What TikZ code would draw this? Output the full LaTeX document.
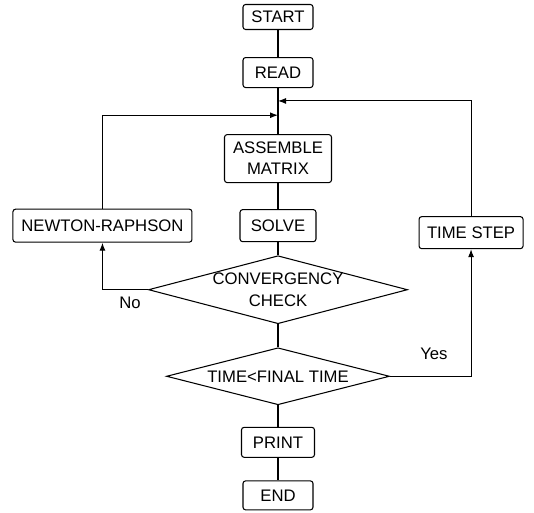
\documentclass[tikz,border=0pt]{standalone}
\usepackage{fontspec}
\setmainfont{Liberation Sans}
\usetikzlibrary{positioning, arrows.meta, calc, shapes.geometric}

\begin{document}
\begin{tikzpicture}[
        line width=0.6pt,
        box/.style={rectangle, draw, rounded corners=1.5pt, minimum width=1.4cm, minimum height=0.6cm, inner xsep=4pt, align=center, font=\fontsize{9.5}{12}\selectfont},
        decision/.style={diamond, draw, inner sep=0pt, aspect=3.8, align=center, font=\fontsize{9.5}{12}\selectfont},
        tag/.style={inner sep=1pt, font=\fontsize{9.5}{12}\selectfont},
        arrow/.style={-{Latex[length=1.6mm, width=1.2mm]}}
    ]
        % Frame
        \path[use as bounding box] (0,0) rectangle (10.68,-10.26);

        % Main column
        \node (start) [box, minimum height=0.5cm] at (5.56,-0.34) {START};
        \node (read) [box, below=0.54cm of start] {READ};
        \node (assemble) [box, below=0.92cm of read, minimum width=2.14cm, minimum height=0.96cm] {ASSEMBLE\\MATRIX};
        \node (solve) [box, below=0.52cm of assemble, minimum width=1.52cm, minimum height=0.64cm] {SOLVE};
        \node (conv) [decision, below=0.26cm of solve, minimum width=5.18cm, minimum height=1.36cm] {CONVERGENCY\\CHECK};
        \node (test) [decision, below=0.46cm of conv, minimum width=4.46cm, minimum height=1.14cm, aspect=3.9] {TIME<FINAL TIME};
        \node (print) [box, below=0.43cm of test, minimum width=1.46cm] {PRINT};
        \node (stop) [box, below=0.45cm of print, minimum height=0.58cm] {END};

        % Side boxes
        \node (newton) [box, left=0.94cm of solve, minimum width=3.58cm, minimum height=0.66cm] {NEWTON-RAPHSON};
        \node (tstep) [box, right=2.04cm of solve, yshift=-0.14cm, minimum width=2.08cm, minimum height=0.64cm] {TIME STEP};

        % Junctions on the main line
        \coordinate (jr) at ($(read.south)!0.28!(assemble.north)$);
        \coordinate (jl) at ($(read.south)!0.59!(assemble.north)$);

        % Lines
        \draw (start) -- (read);
        \draw (read) -- (assemble);
        \draw (assemble) -- (solve);
        \draw (solve) -- (conv);
        \draw (conv) -- (test);
        \draw (test) -- (print);
        \draw (print) -- (stop);

        % Loops
        \draw [arrow] (conv.west) -| (newton.south);
        \draw [arrow] (newton.north) |- (jl);
        \draw [arrow] (test.east) -| (tstep.south);
        \draw [arrow] (tstep.north) |- (jr);

        % Labels
        \node (no) [tag, below left=0.1cm and 0.1cm of conv.west] {No};
        \node (yes) [tag, above right=0.28cm and 0.56cm of test.east] {Yes};
\end{tikzpicture}
\end{document}
